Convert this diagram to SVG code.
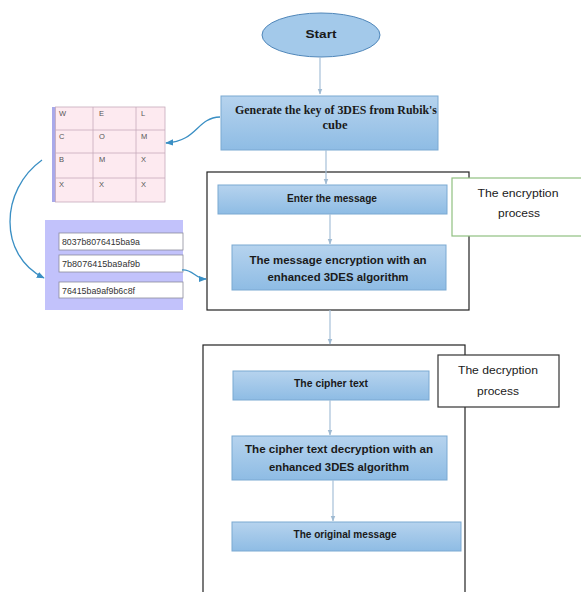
<svg xmlns="http://www.w3.org/2000/svg" width="581" height="592" viewBox="0 0 581 592">
<defs>
<linearGradient id="bg" x1="0" y1="0" x2="0" y2="1">
<stop offset="0" stop-color="#b6d3ee"/>
<stop offset="1" stop-color="#8ebce4"/>
</linearGradient>
<marker id="ah" viewBox="0 0 10 10" refX="9" refY="5" markerWidth="6" markerHeight="6" orient="auto" markerUnits="userSpaceOnUse">
<path d="M0,1 L10,5 L0,9 Z" fill="#9fbad2"/>
</marker>
<marker id="bh" viewBox="0 0 10 10" refX="9" refY="5" markerWidth="8" markerHeight="8" orient="auto" markerUnits="userSpaceOnUse">
<path d="M0,1 L10,5 L0,9 Z" fill="#3a8fc4"/>
</marker>
<style>
.box{fill:url(#bg);stroke:#7aa9d2;stroke-width:1}
.frame{fill:#fff;stroke:#222;stroke-width:1.2}
.lbl{font-family:"Liberation Sans",Arial,sans-serif;font-weight:bold;font-size:11.5px;fill:#1a1a1a;text-anchor:middle}
.note{font-family:"Liberation Sans",Arial,sans-serif;font-size:11.5px;fill:#1a1a1a;text-anchor:middle}
.ser{font-family:"Liberation Serif","Times New Roman",serif;font-weight:bold;font-size:12.5px;fill:#1a1a1a;text-anchor:middle}
.cell{font-family:"Liberation Sans",Arial,sans-serif;font-size:7.5px;fill:#555}
.key{font-family:"Liberation Sans",Arial,sans-serif;font-size:9.5px;fill:#333}
.vl{stroke:#a6c0d8;stroke-width:1.2;fill:none}
.cv{stroke:#3a8fc4;stroke-width:1.3;fill:none}
</style>
</defs>

<g id="enc-frame"><rect class="frame" x="207" y="172" width="262" height="138"/></g>
<g id="dec-frame"><rect class="frame" x="203" y="345" width="262" height="260"/></g>

<g id="start">
<ellipse cx="321" cy="35" rx="59" ry="22" fill="#a3c9ea" stroke="#4f86b9" stroke-width="1"/>
<text class="lbl" x="321" y="38" textLength="31" lengthAdjust="spacingAndGlyphs">Start</text>
</g>

<g id="genkey">
<rect class="box" x="221" y="96" width="217" height="54"/>
<text class="ser" x="336" y="114" textLength="202" lengthAdjust="spacingAndGlyphs">Generate the key of 3DES from Rubik's</text>
<text class="ser" x="335" y="129">cube</text>
</g>

<g id="grid">
<rect x="52" y="107" width="113" height="95" fill="#fdeaf0"/>
<rect x="52" y="107" width="3.5" height="95" fill="#a9a9ea"/>
<g stroke="#c6abbb" stroke-width="0.8" fill="none">
<rect x="55.5" y="107" width="109.5" height="95"/>
<line x1="93" y1="107" x2="93" y2="202"/>
<line x1="136" y1="107" x2="136" y2="202"/>
<line x1="55.5" y1="130" x2="165" y2="130"/>
<line x1="55.5" y1="153" x2="165" y2="153"/>
<line x1="55.5" y1="178" x2="165" y2="178"/>
</g>
<text class="cell" x="59" y="116">W</text><text class="cell" x="99" y="116">E</text><text class="cell" x="141" y="116">L</text>
<text class="cell" x="59" y="139">C</text><text class="cell" x="99" y="139">O</text><text class="cell" x="141" y="139">M</text>
<text class="cell" x="59" y="162">B</text><text class="cell" x="99" y="162">M</text><text class="cell" x="141" y="162">X</text>
<text class="cell" x="59" y="187">X</text><text class="cell" x="99" y="187">X</text><text class="cell" x="141" y="187">X</text>
</g>

<g id="keys">
<rect x="45" y="220" width="138" height="90" fill="#c2c2fb"/>
<g fill="#fff" stroke="#8c8c9c" stroke-width="0.8">
<rect x="59" y="233" width="124" height="17"/>
<rect x="59" y="255" width="124" height="17"/>
<rect x="59" y="282" width="124" height="16"/>
</g>
<text class="key" x="62" y="245" textLength="78" lengthAdjust="spacingAndGlyphs">8037b8076415ba9a</text>
<text class="key" x="62" y="267" textLength="78" lengthAdjust="spacingAndGlyphs">7b8076415ba9af9b</text>
<text class="key" x="62" y="294" textLength="73" lengthAdjust="spacingAndGlyphs">76415ba9af9b6c8f</text>
</g>

<g id="enter">
<rect class="box" x="218" y="185" width="229" height="29"/>
<text class="lbl" x="332" y="202" textLength="90" lengthAdjust="spacingAndGlyphs">Enter the message</text>
</g>

<g id="encrypt">
<rect class="box" x="232" y="245" width="214" height="45"/>
<text class="lbl" x="338" y="264" textLength="177" lengthAdjust="spacingAndGlyphs">The message encryption with an</text>
<text class="lbl" x="338" y="281" textLength="141" lengthAdjust="spacingAndGlyphs">enhanced 3DES algorithm</text>
</g>

<g id="enc-note">
<rect x="452" y="178" width="135" height="58" fill="#fff" stroke="#90c080" stroke-width="1.2"/>
<text class="note" x="518" y="197" textLength="81" lengthAdjust="spacingAndGlyphs">The encryption</text>
<text class="note" x="519" y="217" textLength="42" lengthAdjust="spacingAndGlyphs">process</text>
</g>

<g id="cipher">
<rect class="box" x="233" y="371" width="196" height="29"/>
<text class="lbl" x="331" y="387" textLength="74" lengthAdjust="spacingAndGlyphs">The cipher text</text>
</g>

<g id="decrypt">
<rect class="box" x="232" y="436" width="215" height="44"/>
<text class="lbl" x="339" y="453" textLength="188" lengthAdjust="spacingAndGlyphs">The cipher text decryption with an</text>
<text class="lbl" x="339" y="471" textLength="140" lengthAdjust="spacingAndGlyphs">enhanced 3DES algorithm</text>
</g>

<g id="original">
<rect class="box" x="232" y="522" width="229" height="29"/>
<text class="lbl" x="345" y="538" textLength="103" lengthAdjust="spacingAndGlyphs">The original message</text>
</g>

<g id="dec-note">
<rect x="438" y="355" width="121" height="52" fill="#fff" stroke="#333" stroke-width="1.2"/>
<text class="note" x="498" y="374" textLength="80" lengthAdjust="spacingAndGlyphs">The decryption</text>
<text class="note" x="498" y="395" textLength="42" lengthAdjust="spacingAndGlyphs">process</text>
</g>

<g id="connectors">
<line class="vl" x1="320" y1="57" x2="320" y2="94" marker-end="url(#ah)"/>
<line class="vl" x1="326" y1="150" x2="326" y2="184" marker-end="url(#ah)"/>
<line class="vl" x1="330" y1="214" x2="330" y2="244" marker-end="url(#ah)"/>
<line class="vl" x1="330" y1="310" x2="330" y2="344" marker-end="url(#ah)"/>
<line class="vl" x1="330" y1="400" x2="330" y2="435" marker-end="url(#ah)"/>
<line class="vl" x1="333" y1="480" x2="333" y2="521" marker-end="url(#ah)"/>
<path class="cv" d="M220,117 C196,118 198,141 166,143" marker-end="url(#bh)"/>
<path class="cv" d="M42,160 C0,190 -2,255 44,278" marker-end="url(#bh)"/>
<path class="cv" d="M182,270 C193,269 195,279 206,279" marker-end="url(#bh)"/>
</g>
</svg>
